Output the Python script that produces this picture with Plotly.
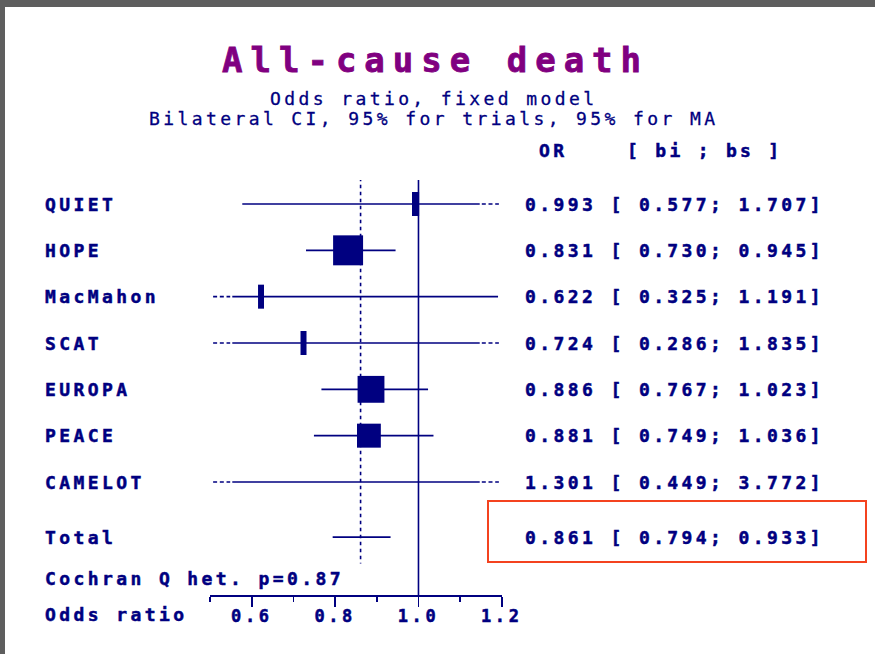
import math
import plotly.graph_objects as go

# ---------------- data ----------------
trials = ["QUIET", "HOPE", "MacMahon", "SCAT", "EUROPA", "PEACE", "CAMELOT"]
odds_ratio = [0.993, 0.831, 0.622, 0.724, 0.886, 0.881, 1.301]
ci_low = [0.577, 0.730, 0.325, 0.286, 0.767, 0.749, 0.449]
ci_high = [1.707, 0.945, 1.191, 1.835, 1.023, 1.036, 3.772]
weights_pct = [2.2, 39.0, 1.5, 0.75, 31.3, 24.7, 0.57]

total_label = "Total"
total_or = 0.861
total_low = 0.794
total_high = 0.933
het_p = 0.87

tick_vals = [0.6, 0.8, 1.0, 1.2]
tick_labels = ["0.6", "0.8", "1.0", "1.2"]
minor_tick_vals = [0.5, 0.7, 0.9, 1.1]

title_text = "All-cause death"
subtitle_1 = "Odds ratio, fixed model"
subtitle_2 = "Bilateral CI, 95% for trials, 95% for MA"
header_or = "OR"
header_ci = "[ bi ; bs ]"
axis_title = "Odds ratio"

# ---------------- layout constants ----------------
W, H = 875, 654
PL, PR = 210, 502      # plot area, pixels
PT, PB = 180, 595
X_MIN, X_MAX = 0.5, 1.2
TRUNC = 0.048          # length of the dotted "continues" marker
GAP = 0.005
NAVY = "#000080"
PURPLE = "#800080"
MONO = "DejaVu Sans Mono"

n = len(trials)
row_pos = list(range(n))
total_pos = n - 1 + 1.19
Y_TOP, Y_BOT = -0.518, 8.439


def pxx(px):
    return (px - PL) / (PR - PL)


def pxy(py):
    return 1 - (py - PT) / (PB - PT)


def spaced(text, ls, stroke=0.0, color=NAVY):
    st = f"letter-spacing:{ls}px"
    if stroke:
        st += f";stroke:{color};stroke-width:{stroke}px"
    return f'<span style="{st}">{text}</span>'


fig = go.Figure()

# CI lines
solid_x, solid_y, dot_x, dot_y = [], [], [], []
for i in range(n):
    lo, hi, y = ci_low[i], ci_high[i], row_pos[i]
    s_lo = lo if lo >= X_MIN else X_MIN + TRUNC + GAP
    s_hi = hi if hi <= X_MAX else X_MAX - TRUNC - GAP
    solid_x += [s_lo, s_hi, None]
    solid_y += [y, y, None]
    if lo < X_MIN:
        dot_x += [X_MIN + 0.007, X_MIN + TRUNC, None]
        dot_y += [y, y, None]
    if hi > X_MAX:
        dot_x += [X_MAX - TRUNC, X_MAX - 0.007, None]
        dot_y += [y, y, None]
solid_x += [total_low, total_high, None]
solid_y += [total_pos, total_pos, None]

fig.add_trace(go.Scatter(x=solid_x, y=solid_y, mode="lines",
                         line=dict(color=NAVY, width=1.6), hoverinfo="skip",
                         showlegend=False))
fig.add_trace(go.Scatter(x=dot_x, y=dot_y, mode="lines",
                         line=dict(color=NAVY, width=1.6, dash="4px,2.7px"),
                         hoverinfo="skip", showlegend=False))

shapes = []
# boxes
out_x, out_y, out_s = [], [], []
for i in range(n):
    side = 4.8 * math.sqrt(weights_pct[i])
    o = odds_ratio[i]
    if X_MIN <= o <= X_MAX:
        w = max(side, 6)
        h = max(side, 24)
        shapes.append(dict(type="rect", xref="x", yref="y",
                           xsizemode="pixel", xanchor=o, x0=-w / 2, x1=w / 2,
                           ysizemode="pixel", yanchor=row_pos[i], y0=-h / 2, y1=h / 2,
                           fillcolor=NAVY, line=dict(width=0), layer="above"))
    else:
        out_x.append(o)
        out_y.append(row_pos[i])
        out_s.append(max(side, 5))
fig.add_trace(go.Scatter(x=out_x, y=out_y, mode="markers", cliponaxis=False,
                         marker=dict(symbol="square", size=out_s, color=NAVY,
                                     line=dict(width=0)),
                         hoverinfo="skip", showlegend=False))

# null line at 1.0
shapes.append(dict(type="line", xref="x", yref="paper", x0=1.0, x1=1.0, y0=0, y1=1,
                   line=dict(color=NAVY, width=1.6)))
# dotted line at pooled OR
shapes.append(dict(type="line", xref="x", yref="y", x0=total_or, x1=total_or,
                   y0=Y_TOP - 0.05, y1=total_pos + 0.57,
                   line=dict(color=NAVY, width=1.6, dash="3.5px,3.5px")))
# frame of the screenshot
shapes.append(dict(type="rect", xref="paper", yref="paper", x0=pxx(0), x1=pxx(W),
                   y0=pxy(7), y1=pxy(0), fillcolor="#5e5e5e", line=dict(width=0)))
shapes.append(dict(type="rect", xref="paper", yref="paper", x0=pxx(0), x1=pxx(5),
                   y0=pxy(H), y1=pxy(0), fillcolor="#5e5e5e", line=dict(width=0)))
# highlight box round the pooled result
shapes.append(dict(type="rect", xref="paper", yref="paper", x0=pxx(488), x1=pxx(866),
                   y0=pxy(562), y1=pxy(501), line=dict(color="#F4431F", width=2)))

ann = []
FS = 18
LS = 3.4
SW = 0.5
lab_font = dict(family=MONO, size=FS, color=NAVY, weight="bold")


def add_text(x, y, yref, text, anchor="left", ls=LS, font=None, stroke=SW, color=NAVY):
    ann.append(dict(xref="paper", yref=yref, x=x, y=y, xanchor=anchor,
                    yanchor="middle", text=spaced(text, ls, stroke, color),
                    showarrow=False, font=font or lab_font))


for i in range(n):
    add_text(pxx(43), row_pos[i], "y", trials[i])
    txt = f"{odds_ratio[i]:.3f} [ {ci_low[i]:.3f}; {ci_high[i]:.3f}]"
    add_text(pxx(523), row_pos[i], "y", txt)
add_text(pxx(43), total_pos, "y", total_label)
add_text(pxx(523), total_pos, "y",
         f"{total_or:.3f} [ {total_low:.3f}; {total_high:.3f}]")
add_text(pxx(43), pxy(578), "paper", f"Cochran Q het. p={het_p:.2f}")
add_text(pxx(43), pxy(614), "paper", axis_title)
add_text(pxx(537), pxy(150), "paper", header_or)
add_text(pxx(625), pxy(150), "paper", header_ci, ls=3.3)
# titles
add_text(pxx(435), pxy(60), "paper", title_text, anchor="center", ls=8,
         font=dict(family=MONO, size=34, color=PURPLE, weight="bold"),
         stroke=0.8, color=PURPLE)
add_text(pxx(433), pxy(98), "paper", subtitle_1, anchor="center", ls=3.4,
         font=dict(family=MONO, size=18, color=NAVY), stroke=0.3)
add_text(pxx(433), pxy(118), "paper", subtitle_2, anchor="center", ls=3.4,
         font=dict(family=MONO, size=18, color=NAVY), stroke=0.3)

fig.update_layout(
    width=W, height=H,
    margin=dict(l=PL, r=W - PR, t=PT, b=H - PB, pad=0),
    paper_bgcolor="white", plot_bgcolor="white",
    shapes=shapes, annotations=ann, showlegend=False,
    xaxis=dict(range=[X_MIN - 0.0005, X_MAX + 0.0005], showgrid=False, zeroline=False,
               showline=True, linecolor=NAVY, linewidth=1.6,
               ticks="outside", ticklen=10, tickwidth=1.6, tickcolor=NAVY,
               tickvals=tick_vals,
               ticktext=[spaced(t, 3.6, 0.5) for t in tick_labels],
               ticklabelstandoff=-5,
               tickfont=dict(family=MONO, size=17, color=NAVY, weight="bold"),
               minor=dict(tickvals=minor_tick_vals, ticks="outside", ticklen=5,
                          tickwidth=1.6, tickcolor=NAVY),
               fixedrange=True),
    yaxis=dict(range=[Y_BOT, Y_TOP], visible=False, fixedrange=True),
)

fig.write_html("out.html",
               config={"displayModeBar": False, "staticPlot": True},
               post_script="document.body.style.margin='0';"
                           "document.body.style.overflow='hidden';")
